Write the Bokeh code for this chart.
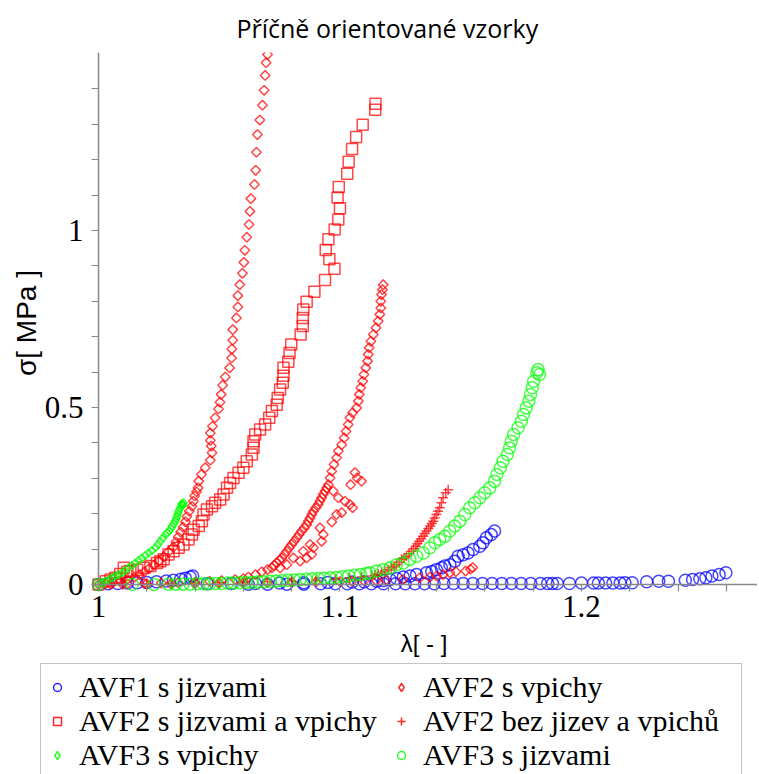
from bokeh.plotting import figure
from bokeh.models import Range1d, FixedTicker, Legend, LegendItem, LinearAxis
from bokeh.embed import file_html
from bokeh.resources import INLINE
import math

# ---------------- text ----------------
title_text = "Příčně orientované vzorky"
x_label = "λ[ - ]"
y_label = "σ[ MPa ]"
x_ticks = [1.0, 1.1, 1.2]
x_tick_labels = ["1", "1.1", "1.2"]
x_minor_ticks = [1.02, 1.04, 1.06, 1.08, 1.12, 1.14, 1.16, 1.18, 1.22, 1.24, 1.26]
y_ticks = [0.0, 0.5, 1.0]
y_tick_labels = ["0", "0.5", "1"]
y_minor_ticks = [0.1, 0.2, 0.3, 0.4, 0.6, 0.7, 0.8, 0.9, 1.1, 1.2, 1.3, 1.4]

series_names = ["AVF1 s jizvami", "AVF2 s vpichy", "AVF2 s jizvami a vpichy",
                "AVF2 bez jizev a vpichů", "AVF3 s vpichy", "AVF3 s jizvami"]

# ---------------- data (lambda, sigma) ----------------
avf1_jizvy = [
    (1.000, 0.000), (1.004, 0.002), (1.008, 0.003), (1.012, 0.004), (1.016, 0.005), (1.020, 0.006),
    (1.024, 0.008), (1.028, 0.010), (1.031, 0.012), (1.034, 0.015), (1.036, 0.018), (1.038, 0.021),
    (1.039, 0.024),
    (1.045, 0.002), (1.055, 0.003), (1.065, 0.003), (1.075, 0.004), (1.085, 0.005), (1.095, 0.006),
    (1.105, 0.007), (1.110, 0.008), (1.1152, 0.009), (1.118, 0.011), (1.1207, 0.014), (1.1235, 0.017),
    (1.1262, 0.021), (1.129, 0.024), (1.1317, 0.028), (1.1358, 0.033), (1.138, 0.037), (1.1399, 0.042),
    (1.142, 0.047), (1.1434, 0.052), (1.1455, 0.056), (1.1475, 0.066), (1.1489, 0.080), (1.151, 0.084),
    (1.1530, 0.089), (1.1551, 0.099), (1.1579, 0.108), (1.1592, 0.118), (1.1606, 0.132), (1.1626, 0.141),
    (1.1640, 0.151),
    (1.062, 0.001), (1.070, 0.001), (1.078, 0.001), (1.085, 0.001), (1.092, 0.002), (1.098, 0.002),
    (1.103, 0.002), (1.108, 0.002), (1.113, 0.002), (1.118, 0.002), (1.123, 0.002), (1.127, 0.002),
    (1.131, 0.002), (1.135, 0.002), (1.139, 0.002), (1.143, 0.003), (1.147, 0.003), (1.151, 0.003),
    (1.155, 0.003), (1.159, 0.003), (1.163, 0.003), (1.167, 0.003), (1.171, 0.003), (1.175, 0.003),
    (1.179, 0.003), (1.183, 0.003), (1.186, 0.003), (1.188, 0.003), (1.190, 0.003), (1.195, 0.003),
    (1.200, 0.004), (1.205, 0.004), (1.207, 0.004), (1.210, 0.004), (1.213, 0.004), (1.216, 0.004),
    (1.218, 0.005), (1.221, 0.005), (1.227, 0.008), (1.232, 0.009), (1.236, 0.009), (1.243, 0.012),
    (1.246, 0.014), (1.249, 0.016), (1.2515, 0.019), (1.254, 0.024), (1.257, 0.028), (1.2598, 0.033),
]

avf2_vpichy = [
    (1.000, 0.000), (1.003, 0.003), (1.006, 0.006), (1.009, 0.010), (1.012, 0.015), (1.015, 0.021),
    (1.017, 0.028), (1.019, 0.036), (1.021, 0.045), (1.023, 0.055), (1.025, 0.066), (1.027, 0.078),
    (1.029, 0.092), (1.031, 0.106), (1.032, 0.120), (1.033, 0.134), (1.034, 0.148), (1.035, 0.162),
    (1.036, 0.177), (1.0366, 0.192), (1.0376, 0.207), (1.0387, 0.221), (1.0393, 0.235), (1.0398, 0.250),
    (1.0406, 0.262), (1.0412, 0.273), (1.0415, 0.292), (1.0426, 0.311), (1.0442, 0.330), (1.0463, 0.351),
    (1.0470, 0.372), (1.0467, 0.391), (1.0463, 0.407), (1.0463, 0.428), (1.0472, 0.447), (1.0483, 0.471),
    (1.0497, 0.496), (1.0503, 0.515), (1.0508, 0.537), (1.0514, 0.563), (1.0525, 0.586), (1.0543, 0.612),
    (1.0551, 0.640), (1.0552, 0.665), (1.0556, 0.690), (1.0556, 0.720), (1.0571, 0.753), (1.0577, 0.784),
    (1.0577, 0.816), (1.0585, 0.847), (1.0596, 0.879), (1.0602, 0.910), (1.0606, 0.944), (1.0614, 0.981),
    (1.0623, 1.017), (1.0627, 1.054), (1.0631, 1.090), (1.0646, 1.130), (1.0651, 1.170), (1.0654, 1.221),
    (1.0658, 1.271), (1.0668, 1.312), (1.0679, 1.354), (1.0686, 1.396), (1.0690, 1.438), (1.0694, 1.474),
    (1.0700, 1.497),
    (1.005, 0.001), (1.012, 0.002), (1.019, 0.003), (1.026, 0.004), (1.033, 0.005), (1.040, 0.007),
    (1.046, 0.009), (1.051, 0.011), (1.0566, 0.014), (1.0600, 0.017), (1.0621, 0.021), (1.0650, 0.028),
    (1.0676, 0.036), (1.0700, 0.042), (1.0718, 0.047), (1.0728, 0.054), (1.0738, 0.061), (1.0749, 0.068),
    (1.0759, 0.075), (1.0770, 0.085), (1.0780, 0.094), (1.0790, 0.104), (1.0800, 0.113), (1.0810, 0.122),
    (1.0821, 0.132), (1.0831, 0.141), (1.0841, 0.151), (1.0852, 0.160), (1.0862, 0.169), (1.0869, 0.179),
    (1.0876, 0.188), (1.0883, 0.198), (1.0890, 0.207), (1.0900, 0.217), (1.0910, 0.226), (1.0917, 0.236),
    (1.0924, 0.245), (1.0931, 0.255), (1.0938, 0.264), (1.0945, 0.273), (1.0952, 0.282), (1.0959, 0.301),
    (1.0966, 0.320), (1.0975, 0.339), (1.0986, 0.358), (1.0993, 0.377), (1.1007, 0.395), (1.1017, 0.414),
    (1.1025, 0.433), (1.1034, 0.452), (1.1041, 0.471), (1.1052, 0.485), (1.1069, 0.499), (1.1076, 0.518),
    (1.1080, 0.537), (1.1086, 0.556), (1.1094, 0.574), (1.1099, 0.593), (1.1107, 0.612), (1.1114, 0.631),
    (1.1117, 0.650), (1.1121, 0.669), (1.1128, 0.687), (1.1138, 0.706), (1.1149, 0.725), (1.1158, 0.744),
    (1.1165, 0.763), (1.1169, 0.781), (1.1169, 0.800), (1.1172, 0.819), (1.1176, 0.833), (1.1179, 0.847),
    (1.0972, 0.264), (1.0993, 0.245), (1.1021, 0.235), (1.1041, 0.226), (1.1052, 0.217), (1.1007, 0.203),
    (1.0986, 0.198), (1.0966, 0.177), (1.1062, 0.316), (1.1071, 0.301), (1.1089, 0.292), (1.1044, 0.282),
    (1.0917, 0.160), (1.0931, 0.141), (1.0924, 0.122), (1.0890, 0.104), (1.0883, 0.085), (1.0862, 0.075),
    (1.0835, 0.066), (1.0876, 0.113), (1.0848, 0.094), (1.0807, 0.075), (1.0780, 0.056), (1.0752, 0.047),
    (1.010, 0.001), (1.020, 0.002), (1.030, 0.002), (1.040, 0.003), (1.050, 0.004), (1.060, 0.004),
    (1.070, 0.005), (1.080, 0.006), (1.090, 0.007), (1.100, 0.008), (1.105, 0.009), (1.110, 0.010),
    (1.115, 0.011), (1.119, 0.012), (1.126, 0.014), (1.133, 0.019), (1.1372, 0.021), (1.140, 0.024),
    (1.1427, 0.028), (1.1455, 0.033), (1.148, 0.036), (1.152, 0.038), (1.154, 0.043), (1.155, 0.048),
]

avf2_jizvy_vpichy = [
    (1.000, 0.000), (1.003, 0.009), (1.005, 0.014), (1.007, 0.019), (1.009, 0.030), (1.0105, 0.047),
    (1.012, 0.036), (1.0132, 0.038), (1.0160, 0.042), (1.0187, 0.047), (1.0215, 0.052), (1.0242, 0.061),
    (1.0256, 0.066), (1.0270, 0.071), (1.0290, 0.085), (1.0311, 0.094), (1.0332, 0.104), (1.0352, 0.113),
    (1.0373, 0.127), (1.0387, 0.141), (1.0394, 0.155), (1.0415, 0.165), (1.0428, 0.179), (1.0435, 0.198),
    (1.0449, 0.212), (1.0470, 0.221), (1.0483, 0.231), (1.0504, 0.240), (1.0518, 0.254), (1.0532, 0.273),
    (1.0545, 0.287), (1.0559, 0.301), (1.0580, 0.316), (1.0600, 0.330), (1.0614, 0.348), (1.0635, 0.367),
    (1.0642, 0.386), (1.0642, 0.405), (1.0649, 0.424), (1.0669, 0.438), (1.0690, 0.452), (1.0707, 0.471),
    (1.0718, 0.490), (1.0738, 0.508), (1.0742, 0.527), (1.0752, 0.551), (1.0763, 0.570), (1.0766, 0.590),
    (1.0766, 0.612), (1.0786, 0.629), (1.0791, 0.654), (1.0798, 0.678), (1.0837, 0.706), (1.0846, 0.730),
    (1.0846, 0.753), (1.0848, 0.777), (1.0862, 0.799), (1.0894, 0.827), (1.0938, 0.860), (1.0977, 0.892),
    (1.0956, 0.919), (1.0941, 0.945), (1.0952, 0.975), (1.0978, 1.003), (1.0993, 1.031), (1.1000, 1.063),
    (1.0990, 1.093), (1.0995, 1.123), (1.1030, 1.160), (1.1036, 1.194), (1.1050, 1.230), (1.1067, 1.264),
    (1.1094, 1.299), (1.1146, 1.341), (1.1147, 1.358),
]

avf2_bez = [
    (1.000, 0.000), (1.010, 0.001), (1.020, 0.002), (1.030, 0.003), (1.040, 0.004), (1.050, 0.005),
    (1.060, 0.006), (1.070, 0.008), (1.080, 0.010), (1.090, 0.012), (1.098, 0.015), (1.104, 0.018),
    (1.109, 0.021), (1.1131, 0.024), (1.1145, 0.027), (1.1158, 0.030), (1.1172, 0.034), (1.1186, 0.038),
    (1.1200, 0.042), (1.1213, 0.047), (1.1224, 0.051), (1.1234, 0.056), (1.1245, 0.063), (1.1255, 0.071),
    (1.1265, 0.075), (1.1275, 0.080), (1.1286, 0.087), (1.1296, 0.094), (1.1305, 0.101), (1.1314, 0.108),
    (1.1321, 0.115), (1.1328, 0.122), (1.1336, 0.129), (1.1344, 0.136), (1.1351, 0.144), (1.1358, 0.151),
    (1.1366, 0.158), (1.1374, 0.165), (1.1380, 0.172), (1.1386, 0.179), (1.1392, 0.188), (1.1399, 0.198),
    (1.1406, 0.207), (1.1413, 0.217), (1.1420, 0.231), (1.1427, 0.245), (1.1438, 0.259), (1.1448, 0.268),
]

avf3_vpichy = [
    (1.0000, 0.000), (1.0014, 0.005), (1.0028, 0.009), (1.0042, 0.014), (1.0056, 0.019), (1.0070, 0.024),
    (1.0084, 0.028), (1.0098, 0.033), (1.0111, 0.040), (1.0125, 0.047), (1.0139, 0.054), (1.0153, 0.061),
    (1.0166, 0.068), (1.0180, 0.075), (1.0194, 0.082), (1.0208, 0.089), (1.0222, 0.096), (1.0236, 0.104),
    (1.0246, 0.113), (1.0256, 0.122), (1.0266, 0.131), (1.0277, 0.141), (1.0285, 0.146), (1.0293, 0.151),
    (1.0300, 0.158), (1.0306, 0.165), (1.0312, 0.172), (1.0318, 0.179), (1.0322, 0.186), (1.0325, 0.193),
    (1.0329, 0.200), (1.0332, 0.207), (1.0337, 0.214), (1.0342, 0.221), (1.0347, 0.226), (1.0352, 0.231),
    (1.0345, 0.228), (1.0350, 0.224),
]

avf3_jizvy = [
    (1.0000, 0.000), (1.0140, 0.000), (1.0230, 0.000), (1.0290, 0.001), (1.0320, 0.001), (1.0350, 0.001),
    (1.0380, 0.001), (1.0410, 0.002), (1.0435, 0.002), (1.0460, 0.002), (1.0485, 0.003), (1.0510, 0.003),
    (1.0535, 0.004), (1.0560, 0.004), (1.0585, 0.005), (1.0610, 0.006), (1.0635, 0.006), (1.0660, 0.007),
    (1.0685, 0.008), (1.0710, 0.009), (1.0735, 0.010), (1.0760, 0.011), (1.0785, 0.012), (1.0810, 0.013),
    (1.0835, 0.014), (1.0860, 0.015), (1.0885, 0.016), (1.0910, 0.017), (1.0935, 0.018), (1.0960, 0.019),
    (1.0985, 0.020), (1.1010, 0.022), (1.1035, 0.024), (1.1060, 0.026), (1.1085, 0.028), (1.1110, 0.031),
    (1.1124, 0.033), (1.1152, 0.038), (1.1179, 0.042), (1.1207, 0.047), (1.1234, 0.056), (1.1262, 0.061),
    (1.1289, 0.071), (1.1317, 0.080), (1.1345, 0.089), (1.1372, 0.104), (1.1393, 0.118), (1.1413, 0.127),
    (1.1434, 0.136), (1.1455, 0.151), (1.1475, 0.165), (1.1496, 0.179), (1.1517, 0.198), (1.1537, 0.217),
    (1.1558, 0.231), (1.1579, 0.245), (1.1599, 0.259), (1.1620, 0.273), (1.1640, 0.292), (1.1650, 0.311),
    (1.1664, 0.330), (1.1675, 0.348), (1.1693, 0.367), (1.1702, 0.386), (1.1709, 0.405), (1.1719, 0.424),
    (1.1737, 0.443), (1.1751, 0.461), (1.1760, 0.480), (1.1771, 0.499), (1.1782, 0.518), (1.1789, 0.537),
    (1.1796, 0.556), (1.1802, 0.574), (1.1815, 0.598), (1.1826, 0.593), (1.1820, 0.607),
]

# ---------------- main figure ----------------
X0, X1 = 0.99669, 1.27288
Y0, Y1 = -0.0254, 1.5028
p = figure(width=759, height=657, frame_width=667, frame_height=541,
           x_range=Range1d(X0, X1), y_range=Range1d(Y0, Y1),
           output_backend="svg", toolbar_location=None,
           min_border_left=90, min_border_right=0, min_border_top=48, min_border_bottom=0)

p.title.text = title_text
p.title.text_font = "Open Sans"
p.title.text_font_size = "25px"
p.title.text_font_style = "normal"
p.title.text_color = "black"
p.title.align = "left"
p.title.offset = 146
p.title.standoff = 16

p.background_fill_color = "white"
p.border_fill_color = "white"
p.outline_line_color = None
p.xgrid.visible = False
p.ygrid.visible = False

axis_gray = "#888888"

# label-only axes at the frame edges (tick labels + axis titles)
for ax in (p.xaxis[0], p.yaxis[0]):
    ax.axis_line_color = None
    ax.major_tick_line_color = None
    ax.minor_tick_line_color = None
    ax.major_tick_out = 0
    ax.minor_tick_out = 0
    ax.major_tick_in = 0
    ax.minor_tick_in = 0
    ax.major_label_text_font = "Liberation Serif"
    ax.major_label_text_font_size = "31px"
    ax.major_label_text_color = "black"
    ax.axis_label_text_font = "Liberation Sans"
    ax.axis_label_text_font_style = "normal"
    ax.axis_label_text_color = "black"

p.xaxis.axis_label_text_font_size = "24px"
p.yaxis.axis_label_text_font_size = "28px"
p.xaxis.ticker = FixedTicker(ticks=x_ticks, minor_ticks=[])
p.yaxis.ticker = FixedTicker(ticks=y_ticks, minor_ticks=[])
p.xaxis.major_label_overrides = {t: s for t, s in zip(x_ticks, x_tick_labels)}
p.yaxis.major_label_overrides = {t: s for t, s in zip(y_ticks, y_tick_labels)}
p.xaxis.axis_label = x_label
p.yaxis.axis_label = y_label
p.xaxis.major_label_standoff = 2
p.yaxis.major_label_standoff = 7
p.xaxis.axis_label_standoff = 10
p.yaxis.axis_label_standoff = 0


# axis lines with ticks, crossing at the origin (lambda = 1, sigma = 0)
def line_axis(loc, ticks, minor, bounds):
    ax = LinearAxis(fixed_location=loc, ticker=FixedTicker(ticks=ticks, minor_ticks=minor),
                    bounds=bounds)
    ax.axis_line_color = axis_gray
    ax.axis_line_width = 1.5
    ax.major_tick_line_color = axis_gray
    ax.minor_tick_line_color = axis_gray
    ax.major_tick_line_width = 1.2
    ax.minor_tick_line_width = 1.2
    ax.major_tick_out = 0
    ax.major_tick_in = 7
    ax.minor_tick_out = 0
    ax.minor_tick_in = 7
    ax.major_label_text_font_size = "1px"
    ax.major_label_text_color = None
    ax.major_label_standoff = 0
    return ax


p.add_layout(line_axis(0, x_ticks, x_minor_ticks, (X0 + 0.0008, X1)), "above")
p.add_layout(line_axis(1.0, y_ticks, y_minor_ticks, (Y0 + 0.012, Y1)), "right")


def xy(pts):
    return [a for a, b in pts], [b for a, b in pts]


alpha = 0.72
styles = [
    dict(marker="circle", size=12, fill_color=None, line_color="#0000FF", line_alpha=alpha, line_width=1.5),
    dict(marker="square", size=6.8, angle=math.pi / 4, fill_color=None, line_color="#FF0000",
         line_alpha=alpha, line_width=1.5),
    dict(marker="square", size=11, fill_color=None, line_color="#FF0000", line_alpha=alpha, line_width=1.5),
    dict(marker="cross", size=10, line_color="#FF0000", line_alpha=alpha, line_width=1.5),
    dict(marker="square", size=5.5, angle=math.pi / 4, fill_color=None, line_color="#00FF00",
         line_alpha=alpha, line_width=1.5),
    dict(marker="circle", size=12, fill_color=None, line_color="#00FF00", line_alpha=alpha, line_width=1.5),
]
series = [avf1_jizvy, avf2_vpichy, avf2_jizvy_vpichy, avf2_bez, avf3_vpichy, avf3_jizvy]
draw_order = [0, 2, 1, 3, 4, 5]
for i in draw_order:
    x, y = xy(series[i])
    p.scatter(x, y, **styles[i])

# ---------------- legend strip (series data lies outside this strip's ranges) ----------------
lf = figure(width=759, height=117, x_range=Range1d(0, 0.5), y_range=Range1d(-2, -1),
            output_backend="svg", toolbar_location=None,
            x_axis_location=None, y_axis_location=None,
            min_border_left=0, min_border_right=0, min_border_top=0, min_border_bottom=0)
lf.title.visible = False
lf.outline_line_color = None
lf.xgrid.visible = False
lf.ygrid.visible = False
legend_renderers = []
for i, st in enumerate(styles):
    st2 = dict(st)
    st2["line_alpha"] = 0.85
    if "angle" in st2:          # legend swatches ignore rotation: use a diamond marker there
        st2.pop("angle")
        st2["marker"] = "diamond"
        st2["size"] = 10
    x, y = xy(series[i])
    legend_renderers.append(lf.scatter(x, y, **st2))

# column-major fill: rows read (AVF1, AVF2 s vpichy), (AVF2 s jizvami a vpichy, AVF2 bez ...), (AVF3 ..., AVF3 ...)
legend_order = [0, 2, 4, 1, 3, 5]
legend = Legend(items=[LegendItem(label=series_names[i], renderers=[legend_renderers[i]]) for i in legend_order],
                ncols=2, location=(40, -3),
                label_text_font="Liberation Serif", label_text_font_size="30px",
                label_text_color="black",
                glyph_width=20, glyph_height=20, label_standoff=12, label_height=34,
                label_width=312, spacing=0, padding=6, margin=0,
                border_line_color="#888888", border_line_width=1.5,
                background_fill_alpha=1.0)
lf.add_layout(legend)

open("out.html", "w").write(file_html([p, lf], INLINE))
